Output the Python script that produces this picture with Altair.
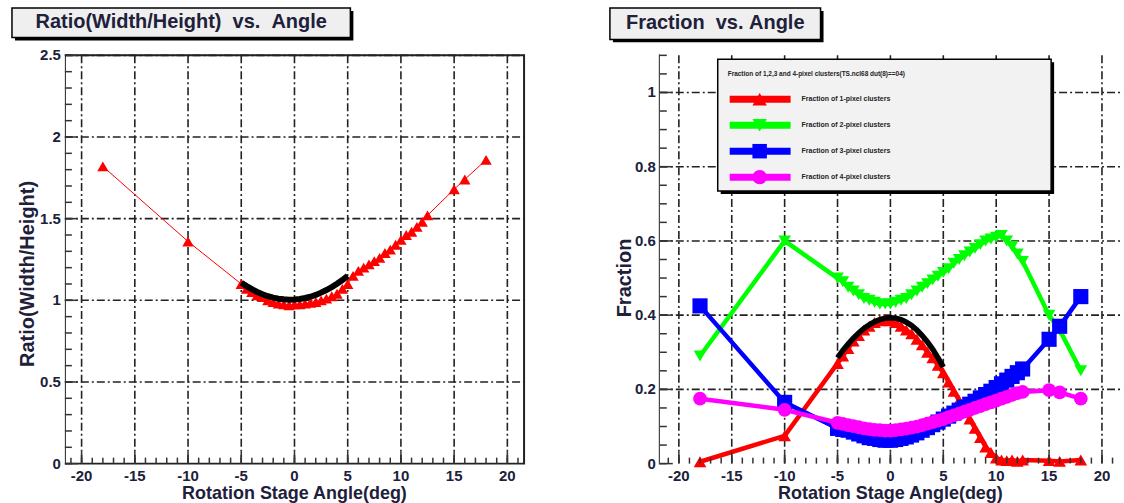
import altair as alt
import pandas as pd

# ---------------- data ----------------
angles = [-18, -10, -5, -4.5, -4, -3.5, -3, -2.5, -2, -1.5, -1, -0.5, 0, 0.5, 1, 1.5,
          2, 2.5, 3, 3.5, 4, 4.5, 5, 5.5, 6, 6.5, 7, 7.5, 8, 8.5, 9, 9.5, 10, 10.5,
          11, 11.5, 12, 12.5, 15, 16, 18]

ratio = [1.82, 1.36, 1.10, 1.07, 1.05, 1.03, 1.02, 1.00, 0.99, 0.98, 0.975, 0.97,
         0.975, 0.975, 0.98, 0.985, 0.99, 1.00, 1.01, 1.025, 1.04, 1.07, 1.10, 1.15,
         1.18, 1.20, 1.22, 1.24, 1.26, 1.29, 1.31, 1.34, 1.37, 1.40, 1.42, 1.45,
         1.48, 1.52, 1.68, 1.74, 1.86]

fit_angles = [-5, -4.5, -4, -3.5, -3, -2.5, -2, -1.5, -1, -0.5, 0, 0.5, 1, 1.5, 2,
              2.5, 3, 3.5, 4, 4.5, 5]
ratio_fit = [1.108, 1.087, 1.068, 1.051, 1.037, 1.025, 1.016, 1.010, 1.006, 1.004,
             1.005, 1.008, 1.014, 1.022, 1.033, 1.047, 1.063, 1.081, 1.101, 1.124, 1.150]

frac1 = [0.005, 0.075, 0.27, 0.29, 0.31, 0.33, 0.345, 0.36, 0.37, 0.38, 0.385, 0.39,
         0.385, 0.38, 0.37, 0.36, 0.35, 0.335, 0.32, 0.30, 0.285, 0.265, 0.245, 0.22,
         0.195, 0.17, 0.145, 0.12, 0.095, 0.07, 0.045, 0.03, 0.015, 0.01, 0.008, 0.01,
         0.006, 0.01, 0.008, 0.006, 0.01]
frac2 = [0.29, 0.60, 0.50, 0.49, 0.475, 0.465, 0.455, 0.445, 0.44, 0.435, 0.43, 0.43,
         0.43, 0.435, 0.44, 0.445, 0.455, 0.465, 0.475, 0.485, 0.495, 0.505, 0.515,
         0.525, 0.54, 0.55, 0.56, 0.57, 0.58, 0.59, 0.60, 0.605, 0.61, 0.615, 0.60,
         0.585, 0.565, 0.545, 0.40, 0.36, 0.25]
frac3 = [0.425, 0.165, 0.095, 0.092, 0.09, 0.085, 0.08, 0.075, 0.07, 0.068, 0.065,
         0.063, 0.063, 0.065, 0.068, 0.072, 0.077, 0.083, 0.09, 0.097, 0.105, 0.112,
         0.12, 0.128, 0.136, 0.144, 0.152, 0.16, 0.168, 0.177, 0.186, 0.195, 0.205,
         0.215, 0.225, 0.235, 0.245, 0.255, 0.335, 0.37, 0.45]
frac4 = [0.175, 0.145, 0.11, 0.107, 0.104, 0.101, 0.098, 0.095, 0.093, 0.091, 0.09,
         0.089, 0.089, 0.09, 0.092, 0.094, 0.097, 0.10, 0.104, 0.108, 0.112, 0.116,
         0.12, 0.125, 0.13, 0.135, 0.14, 0.145, 0.15, 0.155, 0.16, 0.165, 0.17, 0.175,
         0.18, 0.185, 0.19, 0.193, 0.198, 0.192, 0.175]
frac1_fit = [0.285, 0.305, 0.322, 0.338, 0.352, 0.364, 0.374, 0.382, 0.388, 0.392,
             0.393, 0.392, 0.388, 0.381, 0.372, 0.360, 0.345, 0.328, 0.308, 0.285, 0.26]

x_major = [-20, -15, -10, -5, 0, 5, 10, 15, 20]
x_major_labels = ["-20", "-15", "-10", "-5", "0", "5", "10", "15", "20"]
x_minor = list(range(-21, 22))

y1_major = [0, 0.5, 1, 1.5, 2, 2.5]
y1_labels = ["0", "0.5", "1", "1.5", "2", "2.5"]
y1_minor = [round(i * 0.1, 2) for i in range(26)]

y2_major = [0, 0.2, 0.4, 0.6, 0.8, 1.0]
y2_labels = ["0", "0.2", "0.4", "0.6", "0.8", "1"]
y2_minor = [round(i * 0.05, 2) for i in range(23)]

series_names = ["Fraction of 1-pixel clusters", "Fraction of 2-pixel clusters",
                "Fraction of 3-pixel clusters", "Fraction of 4-pixel clusters"]
series_colors = ["#ff0000", "#00ff00", "#0000ff", "#ff00ff"]
series_shapes = ["triangle-up", "triangle-down", "square", "circle"]
legend_header = "Fraction of 1,2,3 and 4-pixel clusters(TS.ncl68 dut(8)==04)"

NB = "\u00a0"
title_left = "Ratio(Width/Height)" + NB * 2 + "vs." + NB * 2 + "Angle"
title_right = "Fraction" + NB * 2 + "vs." + NB + "Angle"

# ---------------- style ----------------
FONT = "Liberation Sans"
TXT = "#20203a"
H = 409
W1 = 460
W2 = 462
X1DOM = [-21.57, 21.57]
X2DOM = [-21.8, 21.8]


def one(text=""):
    return pd.DataFrame({"t": [text]})


def label(text, x, y, size, align="center", angle=0, color=TXT, weight="bold"):
    return alt.Chart(one(text)).mark_text(
        font=FONT, fontSize=size, fontWeight=weight, align=align,
        baseline="middle", angle=angle, color=color
    ).encode(text="t:N", x=alt.value(x), y=alt.value(y))


def box(x1, y1, x2, y2, fill, stroke=None, sw=0):
    kw = dict(fill=fill)
    if stroke:
        kw.update(stroke=stroke, strokeWidth=sw)
    return alt.Chart(one()).mark_rect(**kw).encode(
        x=alt.value(x1), x2=alt.value(x2), y=alt.value(y1), y2=alt.value(y2))


def panel_grid(xs, ys, y_major, W):
    grid = dict(color="#222222", strokeWidth=1.6, strokeDash=[8, 3, 2, 3])
    return [
        alt.Chart(pd.DataFrame({"v": x_major})).mark_rule(**grid).encode(
            x=alt.X("v:Q", scale=xs, axis=None), y=alt.value(0), y2=alt.value(H)),
        alt.Chart(pd.DataFrame({"v": y_major[1:]})).mark_rule(**grid).encode(
            y=alt.Y("v:Q", scale=ys, axis=None), x=alt.value(0), x2=alt.value(W)),
    ]


def panel_ticks(xs, ys, y_major, y_labels, y_minor):
    t = dict(color="#333333", strokeWidth=1.5)
    return [
        alt.Chart(pd.DataFrame({"v": x_minor})).mark_rule(**t).encode(
            x=alt.X("v:Q", scale=xs, axis=None), y=alt.value(H), y2=alt.value(H - 6)),
        alt.Chart(pd.DataFrame({"v": x_major})).mark_rule(**t).encode(
            x=alt.X("v:Q", scale=xs, axis=None), y=alt.value(H), y2=alt.value(H - 12)),
        alt.Chart(pd.DataFrame({"v": y_minor})).mark_rule(**t).encode(
            y=alt.Y("v:Q", scale=ys, axis=None), x=alt.value(0), x2=alt.value(7)),
        alt.Chart(pd.DataFrame({"v": y_major})).mark_rule(**t).encode(
            y=alt.Y("v:Q", scale=ys, axis=None), x=alt.value(0), x2=alt.value(13)),
        alt.Chart(pd.DataFrame({"v": x_major, "t": x_major_labels})).mark_text(
            font=FONT, fontSize=15, fontWeight="bold", color=TXT, baseline="middle"
        ).encode(x=alt.X("v:Q", scale=xs, axis=None), y=alt.value(H + 12), text="t:N"),
        alt.Chart(pd.DataFrame({"v": y_major, "t": y_labels})).mark_text(
            font=FONT, fontSize=15, fontWeight="bold", color=TXT, baseline="middle",
            align="right"
        ).encode(y=alt.Y("v:Q", scale=ys, axis=None), x=alt.value(-4), text="t:N"),
    ]


# ---------------- left panel ----------------
xs1 = alt.Scale(domain=X1DOM, nice=False, zero=False)
ys1 = alt.Scale(domain=[0, 2.5], nice=False, zero=False)

df_ratio = pd.DataFrame({"angle": angles, "val": ratio})
df_rfit = pd.DataFrame({"angle": fit_angles, "val": ratio_fit})

left_layers = [box(-64, -54, 0, 449, "white")]
left_layers += panel_grid(xs1, ys1, y1_major, W1)
left_layers += [
    alt.Chart(df_ratio).mark_line(color="#ff0000", strokeWidth=1).encode(
        x=alt.X("angle:Q", scale=xs1, axis=None), y=alt.Y("val:Q", scale=ys1, axis=None)),
    alt.Chart(df_ratio).mark_point(shape="triangle-up", filled=True, size=130,
                                   color="#ff0000", opacity=1).encode(
        x=alt.X("angle:Q", scale=xs1, axis=None), y=alt.Y("val:Q", scale=ys1, axis=None)),
    alt.Chart(df_rfit).mark_line(color="black", strokeWidth=6).encode(
        x=alt.X("angle:Q", scale=xs1, axis=None), y=alt.Y("val:Q", scale=ys1, axis=None)),
]
left_layers += panel_ticks(xs1, ys1, y1_major, y1_labels, y1_minor)
left_layers += [
    label("Rotation Stage Angle(deg)", W1 / 2, 439, 18),
    label("Ratio(Width/Height)", -37, 219, 20, angle=270),
    box(-50, -44.5, 289, -15, "black"),
    box(-53, -47.5, 286, -18, "#efefef", "black", 1.5),
    label(title_left, 116.5, -33, 20),
]
left = alt.layer(*left_layers).properties(width=W1, height=H)

# ---------------- right panel ----------------
xs2 = alt.Scale(domain=X2DOM, nice=False, zero=False)
ys2 = alt.Scale(domain=[0, 1.1], nice=False, zero=False)

right_layers = [box(0, -54, 464, 449, "white")]
right_layers += panel_grid(xs2, ys2, y2_major, W2)
for vals, col, shp in zip([frac1, frac2, frac3, frac4], series_colors, series_shapes):
    d = pd.DataFrame({"angle": angles, "val": vals})
    size = 230 if shp == "square" else (190 if shp == "circle" else 160)
    right_layers += [
        alt.Chart(d).mark_line(color=col, strokeWidth=4.5).encode(
            x=alt.X("angle:Q", scale=xs2, axis=None), y=alt.Y("val:Q", scale=ys2, axis=None)),
        alt.Chart(d).mark_point(shape=shp, filled=True, size=size, color=col,
                                opacity=1).encode(
            x=alt.X("angle:Q", scale=xs2, axis=None), y=alt.Y("val:Q", scale=ys2, axis=None)),
    ]
right_layers.append(
    alt.Chart(pd.DataFrame({"angle": fit_angles, "val": frac1_fit})).mark_line(
        color="black", strokeWidth=5.5).encode(
        x=alt.X("angle:Q", scale=xs2, axis=None), y=alt.Y("val:Q", scale=ys2, axis=None)))

# legend
right_layers += [
    box(61, 7, 395, 139, "black"),
    box(58, 4, 392, 136, "#f2f2f2", "black", 1.5),
    label(legend_header, 68, 19, 6.5, align="left", color="#222222"),
]
leg_y = [44, 70, 96, 122]
for name, col, shp, yy in zip(series_names, series_colors, series_shapes, leg_y):
    right_layers += [
        alt.Chart(one(name)).mark_rule(color=col, strokeWidth=7).encode(
            x=alt.value(70), x2=alt.value(131), y=alt.value(yy)),
        alt.Chart(one(name)).mark_point(shape=shp, filled=True, size=210, color=col,
                                        opacity=1).encode(
            x=alt.value(100), y=alt.value(yy)),
        label(name, 142, yy, 7, align="left", color="#222222"),
    ]

right_layers += panel_ticks(xs2, ys2, y2_major, y2_labels, y2_minor)
right_layers += [
    label("Rotation Stage Angle(deg)", W2 / 2, 439, 18),
    label("Fraction", -35, 223, 20, angle=270),
    box(-47, -44.5, 164, -13, "black"),
    box(-50, -47.5, 161, -16, "#efefef", "black", 1.5),
    label(title_right, 55.5, -32, 20),
]
right = alt.layer(*right_layers).properties(width=W2, height=H)

chart = alt.hconcat(left, right, spacing=136, bounds="flush").properties(
    padding=0, autosize=alt.AutoSizeParams(type="pad"), background="white"
).configure_view(stroke="#222222", strokeWidth=2)

chart.save("out.html", embed_options={"renderer": "svg", "actions": False})
